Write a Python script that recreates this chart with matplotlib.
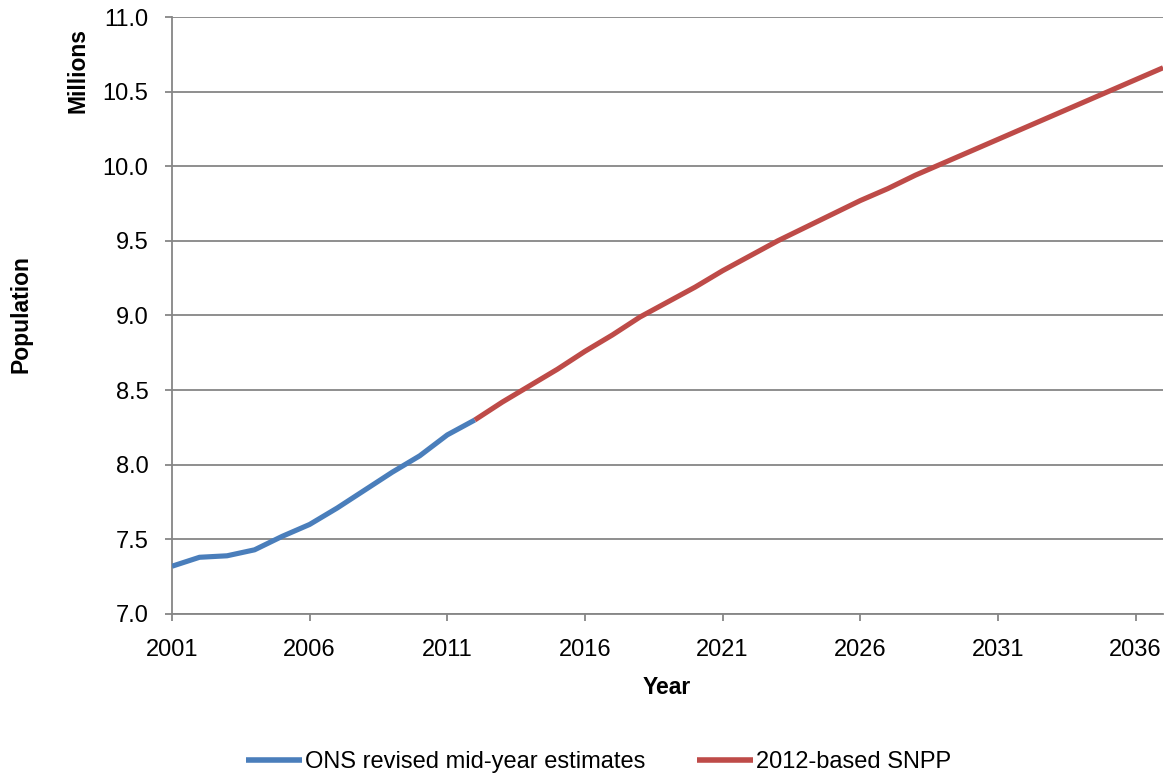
import numpy as np
import matplotlib.pyplot as plt

# Data (millions)
years_est = [2001, 2002, 2003, 2004, 2005, 2006, 2007, 2008, 2009, 2010, 2011, 2012]
pop_est = [7.32, 7.38, 7.39, 7.43, 7.52, 7.60, 7.71, 7.83, 7.95, 8.06, 8.20, 8.30]

years_snpp = list(range(2012, 2038))
pop_snpp = [8.30, 8.42, 8.53, 8.64, 8.76, 8.87, 8.99, 9.09, 9.19, 9.30, 9.40, 9.50,
            9.59, 9.68, 9.77, 9.85, 9.94, 10.02, 10.10, 10.18, 10.26, 10.34, 10.42,
            10.50, 10.58, 10.66]

xticks = [2001, 2006, 2011, 2016, 2021, 2026, 2031, 2036]
yticks = [7.0, 7.5, 8.0, 8.5, 9.0, 9.5, 10.0, 10.5, 11.0]

blue = '#4A7EBB'
red = '#BE4B48'
grey = '#868686'
font = ['Liberation Sans', 'DejaVu Sans']
plt.rcParams['font.family'] = font

fig = plt.figure(figsize=(11.66, 7.73), dpi=100)
ax = fig.add_axes([0.1475, 0.2057, 0.85, 0.7723])

ax.plot(years_est, pop_est, color=blue, lw=3.7, solid_capstyle='butt',
        solid_joinstyle='round', label='ONS revised mid-year estimates', zorder=3)
ax.plot(years_snpp, pop_snpp, color=red, lw=3.7, solid_capstyle='butt',
        solid_joinstyle='round', label='2012-based SNPP', zorder=3)

ax.set_xlim(2001, 2037)
ax.set_ylim(7.0, 11.0)
ax.set_xticks(xticks)
ax.set_yticks(yticks)
ax.set_yticklabels(['%.1f' % v for v in yticks])
ax.grid(axis='y', color=grey, lw=1.3)
ax.set_axisbelow(True)
for s in ['top', 'right']:
    ax.spines[s].set_visible(False)
for s in ['left', 'bottom']:
    ax.spines[s].set_color(grey)
    ax.spines[s].set_linewidth(1.3)
ax.tick_params(axis='both', direction='out', length=5, width=1.3, color=grey,
               labelsize=17, labelcolor='black')
ax.tick_params(axis='y', pad=12)
ax.tick_params(axis='x', pad=13)

fig.text(0.0669, 0.909, 'Millions', rotation=90, ha='center', va='center',
         fontsize=16.5, fontweight='bold')
fig.text(0.018, 0.594, 'Population', rotation=90, ha='center', va='center',
         fontsize=16.5, fontweight='bold')
fig.text(0.572, 0.11, 'Year', ha='center', va='center',
         fontsize=16.5, fontweight='bold')

leg = fig.legend(loc='center left', bbox_to_anchor=(0.211, 0.0142), ncol=2, frameon=False,
                 prop={'size': 17}, handlelength=2.37, handletextpad=0.12,
                 columnspacing=2.2, borderpad=0, borderaxespad=0)
for h in leg.get_lines():
    h.set_linewidth(4)

fig.savefig('out.png', dpi=100)
